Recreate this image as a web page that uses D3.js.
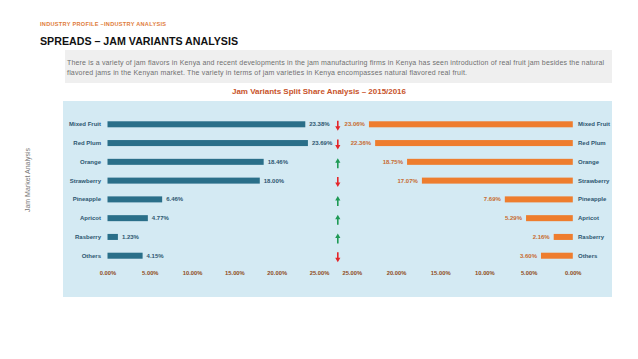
<!DOCTYPE html>
<html><head><meta charset="utf-8">
<script src="https://cdn.jsdelivr.net/npm/d3@7"></script>
<style>
html,body{margin:0;padding:0;background:#fff;}
svg{display:block;font-family:"Liberation Sans",Arial,sans-serif;}
</style></head>
<body><svg id="c" width="638" height="359"></svg>
<script>
const categories = ["Mixed Fruit","Red Plum","Orange","Strawberry","Pineapple","Apricot","Rasberry","Others"];
const share2015 = [23.38, 23.69, 18.46, 18.00, 6.46, 4.77, 1.23, 4.15];
const share2016 = [23.06, 22.36, 18.75, 17.07, 7.69, 5.29, 2.16, 3.60];
const trend = ["down","down","up","down","up","up","up","down"];
const tickValues = [0, 5, 10, 15, 20, 25];

const svg = d3.select("#c");

// header
svg.append("text").attr("x",40).attr("y",26).attr("font-size",5.6).attr("font-weight","bold")
  .attr("fill","#e07b39").attr("textLength",126).attr("lengthAdjust","spacing")
  .text("INDUSTRY PROFILE –INDUSTRY ANALYSIS");
svg.append("text").attr("x",40).attr("y",45).attr("font-size",11.5).attr("font-weight","bold")
  .attr("fill","#111").attr("textLength",198).attr("lengthAdjust","spacingAndGlyphs")
  .text("SPREADS – JAM VARIANTS ANALYSIS");

// description box
svg.append("rect").attr("x",65).attr("y",50).attr("width",547).attr("height",33).attr("fill","#efefef");
svg.append("text").attr("x",67).attr("y",64.5).attr("font-size",7).attr("fill","#707070")
  .attr("textLength",537).attr("lengthAdjust","spacing")
  .text("There is a variety of jam flavors in Kenya and recent developments in the jam manufacturing firms in Kenya has seen introduction of real fruit jam besides the natural");
svg.append("text").attr("x",67).attr("y",75).attr("font-size",7).attr("fill","#707070")
  .attr("textLength",400).attr("lengthAdjust","spacing")
  .text("flavored jams in the Kenyan market. The variety in terms of jam varieties in Kenya encompasses natural flavored real fruit.");

// chart title
svg.append("text").attr("x",319).attr("y",93.5).attr("text-anchor","middle").attr("font-size",8)
  .attr("font-weight","bold").attr("fill","#c8532a").attr("textLength",174).attr("lengthAdjust","spacing")
  .text("Jam Variants Split Share Analysis – 2015/2016");

// side label
svg.append("text").attr("transform","translate(30,180) rotate(-90)").attr("text-anchor","middle")
  .attr("font-size",7).attr("fill","#777").text("Jam Market Analysis");

// panel
svg.append("rect").attr("x",63).attr("y",101).attr("width",549).attr("height",196).attr("fill","#d4eaf3");

const y = d3.scaleBand().domain(categories).range([114.9,265.1]).paddingInner(0.68).paddingOuter(0.34);
const xL = d3.scaleLinear().domain([0,25]).range([107.5,319]);
const xR = d3.scaleLinear().domain([0,25]).range([572.8,351.8]);

const bh = y.bandwidth();

// left bars
svg.append("g").selectAll("rect").data(categories).join("rect")
  .attr("x",xL(0)).attr("y",d=>y(d)).attr("height",bh)
  .attr("width",(d,i)=>xL(share2015[i])-xL(0)).attr("fill","#2a6f89");
svg.append("g").selectAll("text").data(categories).join("text")
  .attr("x",(d,i)=>xL(share2015[i])+4).attr("y",d=>y(d)+bh/2).attr("dy","0.35em")
  .attr("font-size",6).attr("font-weight","bold").attr("fill","#2d5670").text((d,i)=>share2015[i].toFixed(2)+"%");
svg.append("g").selectAll("text").data(categories).join("text")
  .attr("x",101).attr("y",d=>y(d)+bh/2).attr("dy","0.35em").attr("text-anchor","end")
  .attr("font-size",6).attr("font-weight","bold").attr("fill","#2d5670").text(d=>d);

// right bars
svg.append("g").selectAll("rect").data(categories).join("rect")
  .attr("x",(d,i)=>xR(share2016[i])).attr("y",d=>y(d)).attr("height",bh)
  .attr("width",(d,i)=>xR(0)-xR(share2016[i])).attr("fill","#ee7d2e");
svg.append("g").selectAll("text").data(categories).join("text")
  .attr("x",(d,i)=>xR(share2016[i])-4).attr("y",d=>y(d)+bh/2).attr("dy","0.35em").attr("text-anchor","end")
  .attr("font-size",6).attr("font-weight","bold").attr("fill","#c76a30").text((d,i)=>share2016[i].toFixed(2)+"%");
svg.append("g").selectAll("text").data(categories).join("text")
  .attr("x",578).attr("y",d=>y(d)+bh/2).attr("dy","0.35em")
  .attr("font-size",6).attr("font-weight","bold").attr("fill","#2d5670").text(d=>d);

// axes
const fmt = d=>d.toFixed(2)+"%";
const gL = svg.append("g").attr("transform","translate(0,271)")
  .call(d3.axisBottom(xL).tickValues(tickValues).tickFormat(fmt).tickSize(0).tickPadding(0));
const gR = svg.append("g").attr("transform","translate(0,271)")
  .call(d3.axisBottom(xR).tickValues(tickValues).tickFormat(fmt).tickSize(0).tickPadding(0));
[gL,gR].forEach(g=>{
  g.select(".domain").remove();
  g.selectAll("text").attr("font-size",5.8).attr("font-weight","bold").attr("fill","#8e4a22")
    .attr("font-family","Liberation Sans, Arial, sans-serif");
});

// arrows
const ax = 337.8;
svg.append("g").selectAll("path").data(categories).join("path")
  .attr("transform",(d,i)=>`translate(${ax},${y(d)+bh/2+1.5})`)
  .attr("d",(d,i)=> trend[i]==="down"
     ? "M-0.8,-5 L0.8,-5 L0.8,0.5 L2.6,0.5 L0,5 L-2.6,0.5 L-0.8,0.5 Z"
     : "M-0.8,5 L0.8,5 L0.8,-0.5 L2.6,-0.5 L0,-5 L-2.6,-0.5 L-0.8,-0.5 Z")
  .attr("fill",(d,i)=>trend[i]==="down" ? "#e3262a" : "#1e9a55");
</script></body></html>
